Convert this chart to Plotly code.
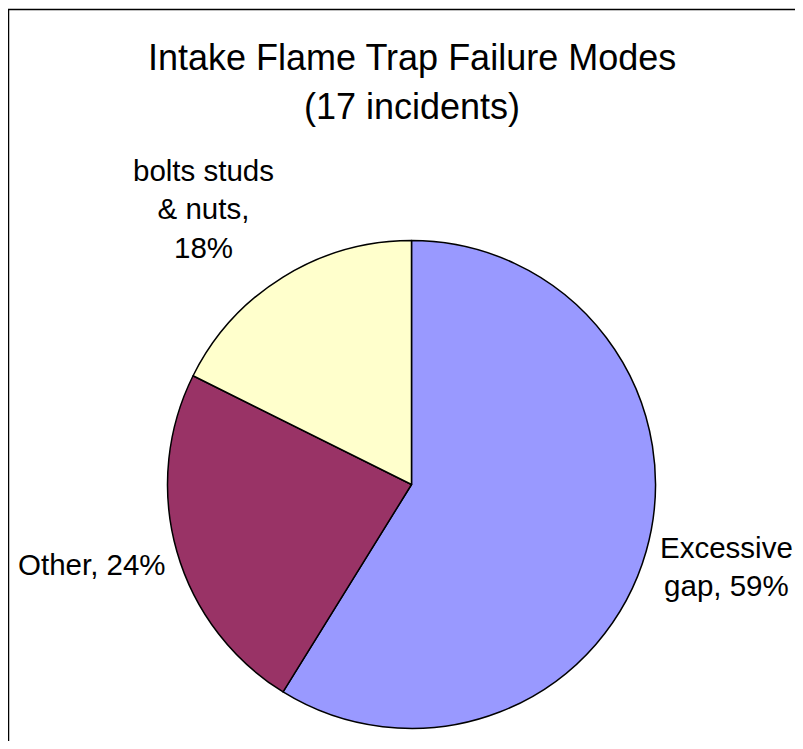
import plotly.graph_objects as go

## datos del grafico
labels = ["Excessive gap", "Other", "bolts studs & nuts"]
incidents = [10, 4, 3]
colors = ["#9999FF", "#993366", "#FFFFCC"]
label_lines = ["Excessive<br>gap,", "Other,", "bolts studs<br>& nuts,<br>"]

# el body de la pagina tiene margen de 8px: la figura ocupa el resto
OFF = 8
W, H = 803 - 2 * OFF, 749 - 2 * OFF
total = sum(incidents)
pct = [round(v * 100 / total) for v in incidents]

def px(x, y):
    # pixel de la pagina -> coordenadas paper
    return (x - OFF) / W, 1 - (y - OFF) / H

## centro y radio del pie en pixeles de la pagina
cx, cy, r = 411.5, 484.5, 244
x0, y1 = px(cx - r, cy - r)
x1, y0 = px(cx + r, cy + r)

fig = go.Figure(go.Pie(
    labels=labels, values=incidents, sort=False, direction="clockwise", rotation=0,
    marker=dict(colors=colors, line=dict(color="black", width=1.5)),
    textinfo="none", hoverinfo="label+percent", showlegend=False,
    domain=dict(x=[x0, x1], y=[y0, y1]),
))

fnt = dict(family="Liberation Sans, Arial, sans-serif", color="black")

# posiciones de las etiquetas (px de la pagina)
pos = [(726, 566), (92, 564), (203, 209)]
anns = []
for txt, p, (x, y) in zip(label_lines, pct, pos):
    ax, ay = px(x, y)
    sep = "" if txt.endswith("<br>") else " "
    anns.append(dict(text=f"{txt}{sep}{p}%", x=ax, y=ay, xref="paper", yref="paper",
                     xanchor="center", yanchor="middle", showarrow=False,
                     font=dict(size=29.5, **fnt)))

## titulo en dos renglones
for txt, y in [("Intake Flame Trap Failure Modes", 57), (f"({total} incidents)", 107)]:
    ax, ay = px(cx, y)
    anns.append(dict(text=txt, x=ax, y=ay, xref="paper", yref="paper",
                     xanchor="center", yanchor="middle", showarrow=False,
                     font=dict(size=36, **fnt)))

bx, by = px(8.5, 9.5)
fig.update_layout(
    width=W, height=H, margin=dict(l=0, r=0, t=0, b=0),
    paper_bgcolor="white", plot_bgcolor="white",
    annotations=anns,
    shapes=[dict(type="rect", xref="paper", yref="paper",
                 x0=bx, y0=-0.1, x1=1.1, y1=by,
                 line=dict(color="black", width=1.5))],
)

fig.write_html("out.html")
